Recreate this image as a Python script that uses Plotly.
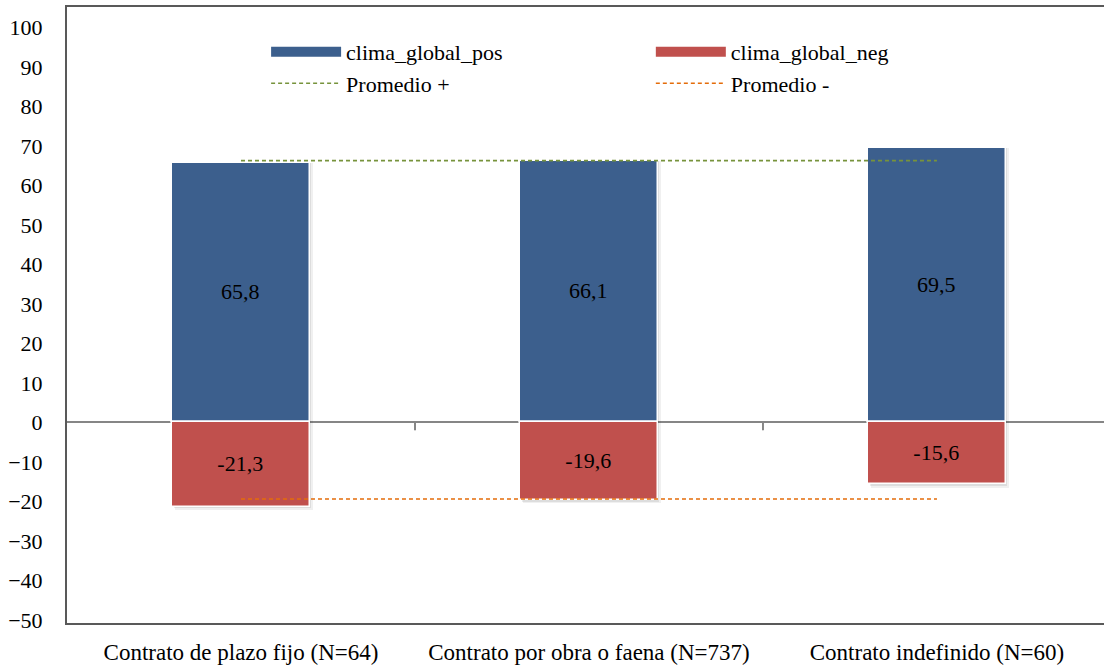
import plotly.graph_objects as go

categorias = [
    "Contrato de plazo fijo (N=64)",
    "Contrato por obra o faena (N=737)",
    "Contrato indefinido (N=60)",
]
clima_global_pos = [65.8, 66.1, 69.5]
clima_global_neg = [-21.3, -19.6, -15.6]
promedio_pos = 66.3
promedio_neg = -19.4
y_ticks = list(range(-50, 101, 10))

FONT = "'Liberation Serif', 'Times New Roman', 'DejaVu Serif', serif"
AZUL = "#3C5F8D"
ROJO = "#C0504D"
VERDE = "#77933C"
NARANJA = "#E46C0A"
BAR_W = 0.394

fig = go.Figure()

# soft drop shadow behind each bar
for vals in (clima_global_pos, clima_global_neg):
    for k, alpha in enumerate((0.06, 0.08)):
        fig.add_trace(go.Bar(
            x=categorias, y=[v - ((0.9 - 0.4 * k) if v < 0 else 0) for v in vals],
            width=BAR_W + 0.004 - 0.004 * k, offset=-BAR_W / 2 + 0.006 - 0.002 * k,
            marker=dict(color=f"rgba(0,0,0,{alpha})", line=dict(width=0)),
            showlegend=False, hoverinfo="skip",
        ))

series = (("clima_global_pos", clima_global_pos, AZUL, "legend"),
          ("clima_global_neg", clima_global_neg, ROJO, "legend2"))
for name, vals, color, leg in series:
    fig.add_trace(go.Bar(
        x=categorias, y=vals, name=name, width=BAR_W, showlegend=False,
        marker=dict(color=color, line=dict(color="white", width=1.5)),
        texttemplate="%{y:.1f}", textposition="inside",
        insidetextanchor="middle", constraintext="none",
        textfont=dict(family=FONT, size=22, color="black"),
    ))
    # wide swatch legend entry for the bar series
    fig.add_trace(go.Scatter(
        x=[None], y=[None], name=name, mode="lines", legend=leg,
        line=dict(color=color, width=10),
    ))

promedios = (("Promedio +", promedio_pos, VERDE, "legend3"),
             ("Promedio -", promedio_neg, NARANJA, "legend4"))
for name, val, color, leg in promedios:
    fig.add_trace(go.Scatter(
        x=categorias, y=[val] * len(categorias), name=name, mode="lines",
        legend=leg, line=dict(color=color, width=1.6, dash="4px,3px"),
    ))

# tick marks on the zero line between categories
for xb in (0.5, 1.5):
    fig.add_shape(type="line", xref="x", yref="y", x0=xb, x1=xb, y0=0, y1=-2.0,
                  line=dict(color="#868686", width=2))

legend_style = dict(
    orientation="v", xanchor="left", yanchor="middle",
    font=dict(family=FONT, size=22, color="black"),
    bgcolor="rgba(0,0,0,0)", itemwidth=70,
)
COL1, COL2 = 0.192, 0.563
ROW1, ROW2 = 0.927, 0.876

fig.update_layout(
    width=1104, height=668,
    margin=dict(l=67, r=0, t=7, b=45),
    paper_bgcolor="white", plot_bgcolor="white",
    barmode="overlay", bargap=0,
    separators=",.",
    font=dict(family=FONT, size=22, color="black"),
    showlegend=True,
    legend=dict(x=COL1, y=ROW1, **legend_style),
    legend2=dict(x=COL2, y=ROW1, **legend_style),
    legend3=dict(x=COL1, y=ROW2, **legend_style),
    legend4=dict(x=COL2, y=ROW2, **legend_style),
    xaxis=dict(
        range=[-0.5, 2.48], showgrid=False, ticks="", showline=True,
        linecolor="#595959", linewidth=2, mirror=True,
        tickfont=dict(family=FONT, size=23), ticklabelstandoff=7,
    ),
    yaxis=dict(
        range=[-50.8, 105.2], tickvals=y_ticks, showgrid=False,
        zeroline=True, zerolinecolor="#868686", zerolinewidth=2,
        showline=True, linecolor="#595959", linewidth=2, ticks="",
        tickfont=dict(family=FONT, size=22), ticklabelstandoff=18,
    ),
)

fig.write_html("out.html")
